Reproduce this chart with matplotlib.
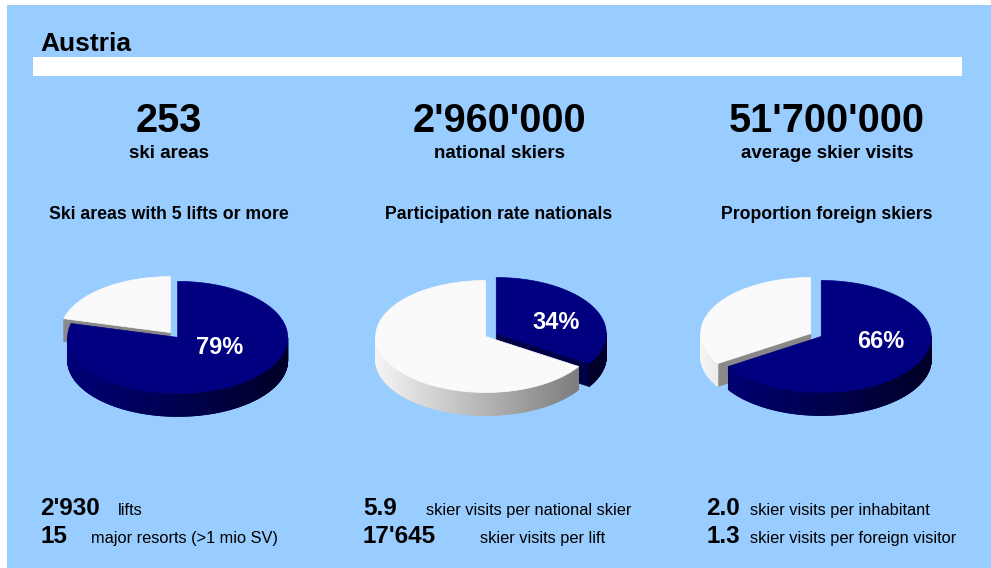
"""Austria ski summary: headline figures, three 3D-style pies and key ratios."""

import matplotlib.pyplot as plt
import numpy as np
from matplotlib.collections import PolyCollection
from matplotlib.patches import Polygon, Rectangle

# ---- data -----------------------------------------------------------------
country = "Austria"
headline_values = ["253", "2'960'000", "51'700'000"]
headline_labels = ["ski areas", "national skiers", "average skier visits"]
pie_titles = [
    "Ski areas with 5 lifts or more",
    "Participation rate nationals",
    "Proportion foreign skiers",
]
pie_shares = [79, 34, 66]  # percent, navy slice
stat_values = [["2'930", "15"], ["5.9", "17'645"], ["2.0", "1.3"]]
stat_labels = [
    ["lifts", "major resorts (>1 mio SV)"],
    ["skier visits per national skier", "skier visits per lift"],
    ["skier visits per inhabitant", "skier visits per foreign visitor"],
]

# ---- layout (pixels) --------------------------------------------------------
W, H = 991, 568
BG = "#99CCFF"
NAVY = np.array([0.0, 0.0, 0.5])
WHITE = np.array([0.98, 0.98, 0.98])
FONT = "Liberation Sans"

col_centers = [169, 499, 827]
pie_centers = [174, 491, 816]
pie_cy = 335
stat_num_x = [40, 363, 706]
stat_lab_x = [[118, 91], [426, 480], [750, 750]]
stat_rows_y = [515, 543]

RX, RY, DEPTH, EXPLODE = 110, 56, 23, 6


def _draw_slice(ax, cx, cy, t1, t2, base, side_k):
    b = np.radians((t1 + t2) / 2)
    X = cx + EXPLODE * np.cos(b)
    Y = cy - EXPLODE * (RY / RX) * np.sin(b)

    def rim(t):
        t = np.radians(t)
        return X + RX * np.cos(t), Y - RY * np.sin(t)

    # radial cut faces, only the ones turned towards the viewer
    for t, visible in ((t1, np.cos(np.radians(t1)) > 0.01),
                       (t2, np.cos(np.radians(t2)) < -0.01)):
        if visible:
            px, py = rim(t)
            col = base * 0.55
            ax.add_patch(Polygon([(X, Y), (px, py), (px, py + DEPTH), (X, Y + DEPTH)],
                                 closed=True, facecolor=col, edgecolor=col, lw=0.5))

    # curved outer wall, shaded as if lit from the left
    ts = np.linspace(t1, t2, int(abs(t2 - t1)) * 2 + 2)
    polys, cols = [], []
    for a, c in zip(ts[:-1], ts[1:]):
        m = np.radians((a + c) / 2)
        if np.sin(m) >= 0:
            continue
        ax_, ay_ = rim(a)
        cx_, cy_ = rim(c)
        polys.append([(ax_, ay_), (cx_, cy_), (cx_, cy_ + DEPTH), (ax_, ay_ + DEPTH)])
        k = side_k[0] - side_k[1] * np.cos(m)
        cols.append(np.clip(base * k, 0, 1))
    if polys:
        ax.add_collection(PolyCollection(polys, facecolors=cols, edgecolors=cols,
                                         linewidths=0.6))

    # top face
    px, py = rim(ts)
    pts = [(X, Y)] + list(zip(px, py))
    ax.add_patch(Polygon(pts, closed=True, facecolor=base, edgecolor=base, lw=0.5))
    return X, Y, b


def draw_pie(ax, cx, cy, share):
    s = share / 100 * 360
    slices = [
        (90 - s, 90, NAVY, (0.62, 0.32), True),
        (90, 450 - s, WHITE, (0.72, 0.26), False),
    ]
    # paint the slice lying further back first
    slices.sort(key=lambda sl: -np.sin(np.radians((sl[0] + sl[1]) / 2)))
    for t1, t2, base, side_k, is_value in slices:
        X, Y, b = _draw_slice(ax, cx, cy, t1, t2, base, side_k)
        if is_value:
            lx = X + 0.62 * RX * np.cos(b)
            ly = Y - 0.3 * RY * np.sin(b) - 3
            label_pos = (lx, ly)
    ax.text(*label_pos, f"{share}%", color="white", fontsize=17, fontweight="bold",
            ha="center", va="center", family=FONT)


fig = plt.figure(figsize=(W / 100, H / 100), dpi=100)
fig.patch.set_facecolor("white")
ax = fig.add_axes([0, 0, 1, 1])
ax.set_xlim(0, W)
ax.set_ylim(H, 0)
ax.axis("off")

ax.add_patch(Rectangle((7, 5), W - 7, H - 5, facecolor=BG, edgecolor="none"))
ax.add_patch(Rectangle((33, 57), 929, 19, facecolor="white", edgecolor="none"))
ax.text(40, 51, country, fontsize=19, fontweight="bold", va="baseline", family=FONT)

for i in range(3):
    xc = col_centers[i]
    ax.text(xc, 132, headline_values[i], fontsize=28.5, fontweight="bold",
            ha="center", va="baseline", family=FONT)
    ax.text(xc, 158, headline_labels[i], fontsize=13.5, fontweight="bold",
            ha="center", va="baseline", family=FONT)
    ax.text(xc, 219, pie_titles[i], fontsize=12.7, fontweight="bold",
            ha="center", va="baseline", family=FONT)
    draw_pie(ax, pie_centers[i], pie_cy, pie_shares[i])
    for r in range(2):
        ax.text(stat_num_x[i], stat_rows_y[r], stat_values[i][r], fontsize=17.5,
                fontweight="bold", va="baseline", family=FONT)
        ax.text(stat_lab_x[i][r], stat_rows_y[r], stat_labels[i][r], fontsize=11.8,
                va="baseline", family=FONT)

fig.savefig("out.png", dpi=100, facecolor="white")
